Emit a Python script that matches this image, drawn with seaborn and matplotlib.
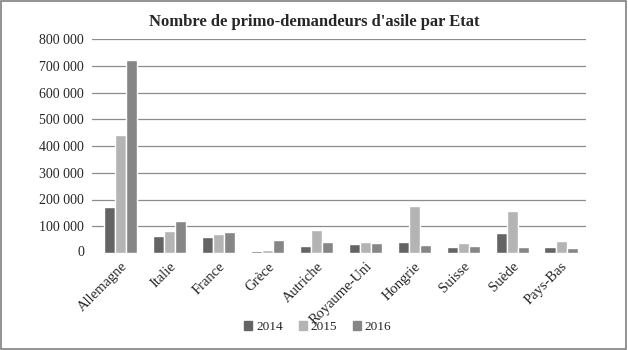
import matplotlib
matplotlib.use("Agg")
import matplotlib.pyplot as plt
import seaborn as sns
import pandas as pd
import numpy as np
from matplotlib.patches import Rectangle

countries = ["Allemagne", "Italie", "France", "Grèce", "Autriche",
             "Royaume-Uni", "Hongrie", "Suisse", "Suède", "Pays-Bas"]
years = ["2014", "2015", "2016"]
v2014 = [172945, 63655, 58845, 7585, 25675, 32120, 41215, 23555, 74980, 21780]
v2015 = [441800, 83245, 70570, 11370, 85505, 39720, 174435, 38060, 156110, 43035]
v2016 = [722265, 121185, 76790, 49875, 39875, 38785, 28215, 25825, 22330, 19285]
yticks = [0, 100000, 200000, 300000, 400000, 500000, 600000, 700000, 800000]
ytick_labels = ["0", "100 000", "200 000", "300 000", "400 000", "500 000",
                "600 000", "700 000", "800 000"]

df = pd.DataFrame({
    "Etat": countries * 3,
    "Année": ["2014"] * 10 + ["2015"] * 10 + ["2016"] * 10,
    "Valeur": v2014 + v2015 + v2016,
})

sns.set_style("white")
plt.rcParams["font.family"] = ["Liberation Serif", "DejaVu Serif"]

fig = plt.figure(figsize=(6.28, 3.5), dpi=100)
ax = fig.add_axes([92 / 628, 1 - 253 / 350, (585.5 - 92) / 628, (253 - 39) / 350])

palette = {"2014": "#646464", "2015": "#b4b4b4", "2016": "#868686"}
sns.barplot(data=df, x="Etat", y="Valeur", hue="Année", hue_order=years,
            palette=palette, width=0.68, ax=ax, zorder=3, legend=False,
            saturation=1)

ax.set_ylim(0, 800000)
ax.set_xlim(-0.59, len(countries) - 0.5)
ax.set_yticks(yticks[1:])
ax.set_yticklabels(ytick_labels[1:], fontsize=10)
ax.yaxis.grid(True, color="#8c8c8c", linewidth=0.9, zorder=0)
ax.set_axisbelow(True)
ax.tick_params(axis="y", length=0, pad=6)
ax.text(-0.59, 0, "0  ", transform=ax.get_yaxis_transform() if False else ax.transData,
        ha="right", va="center", fontsize=10)
ax.set_xlabel("")
ax.set_ylabel("")
for s in ["top", "right", "left", "bottom"]:
    ax.spines[s].set_visible(False)

ax.set_xticks(range(len(countries)))
ax.set_xticklabels(countries, rotation=45, ha="right", rotation_mode="anchor",
                   fontsize=10.5)
ax.tick_params(axis="x", which="major", length=0, pad=5)
ax.set_xticks(np.arange(0.5, len(countries), 1.0), minor=True)
ax.tick_params(axis="x", which="minor", length=3.5, color="#8c8c8c", width=0.9,
               direction="out")

fig.text(0.5, 1 - 22 / 350, "Nombre de primo-demandeurs d'asile par Etat",
         ha="center", va="center", fontsize=12, fontweight="bold")

handles = [Rectangle((0, 0), 1, 1, color=palette[y]) for y in years]
fig.legend(handles, years, loc="center", bbox_to_anchor=(318 / 628, 1 - 327 / 350),
           ncol=3, frameon=False, fontsize=9.5, handlelength=0.6, handleheight=0.6,
           handletextpad=0.3, columnspacing=1.2)

fig.patches.append(Rectangle((0.002, 0.003), 0.995, 0.994, transform=fig.transFigure,
                             fill=False, edgecolor="#808080", linewidth=1.2))

fig.savefig("out.png", dpi=100)
